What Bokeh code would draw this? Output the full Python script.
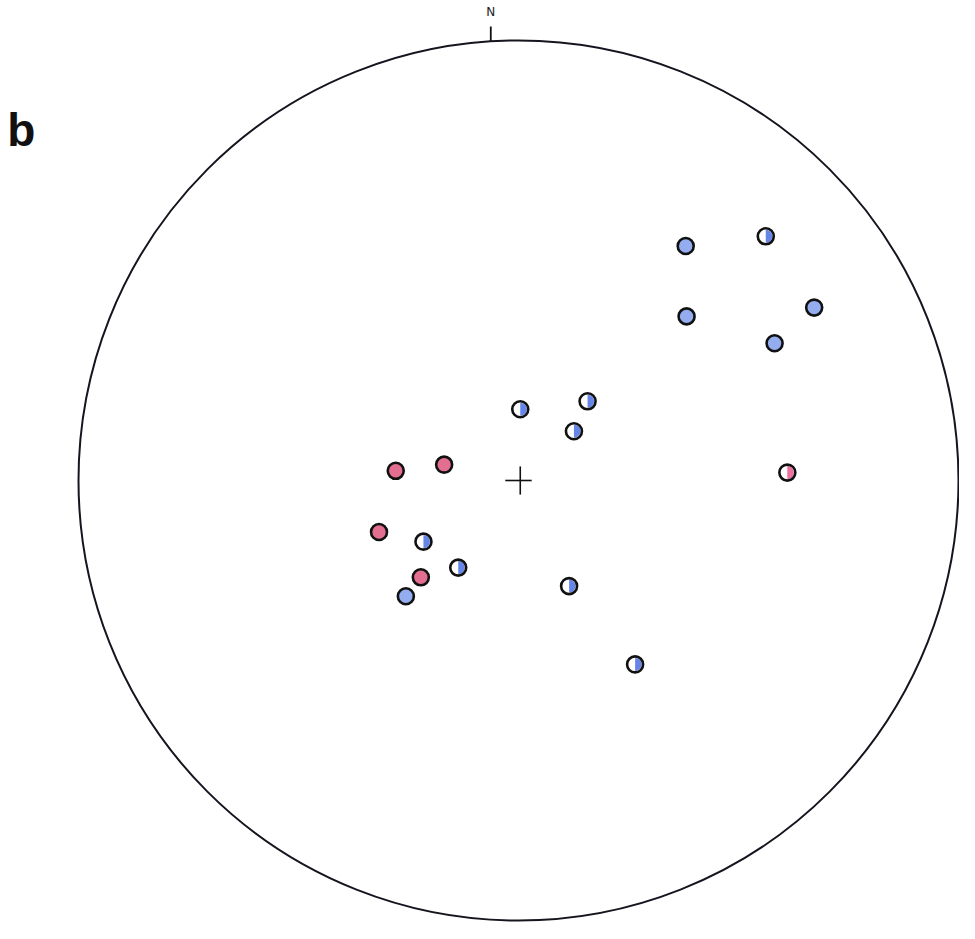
import math
from bokeh.plotting import figure
from bokeh.models import Range1d
from bokeh.core.properties import value
from bokeh.embed import file_html
from bokeh.resources import INLINE

# Points in stereonet unit-circle coordinates (east = +x, north = +y)
blue_full_x = [0.380, 0.382, 0.672, 0.582, -0.256]
blue_full_y = [0.533, 0.373, 0.393, 0.312, -0.263]

blue_half_x = [0.562, 0.004, 0.157, 0.126, -0.216, -0.137, 0.115, 0.265]
blue_half_y = [0.555, 0.162, 0.180, 0.112, -0.139, -0.198, -0.240, -0.418]

red_full_x = [-0.279, -0.169, -0.317, -0.222]
red_full_y = [0.022, 0.036, -0.117, -0.220]

red_half_x = [0.611]
red_half_y = [0.018]

north_label = "N"
panel_label = "b"
north_x = -0.063  # north tick position (slightly rotated scan)

W, H = 959, 923
S = 440.0
CX, CY = 518.0, 480.0
x0 = -CX / S
y1 = CY / S
p = figure(width=W, height=H, output_backend="svg", toolbar_location=None,
           x_range=Range1d(x0, x0 + W / S), y_range=Range1d(y1 - H / S, y1),
           min_border=0, outline_line_color=None)
p.axis.visible = False
p.grid.visible = False
p.background_fill_color = "white"

# Primitive circle
p.circle(x=[0], y=[0], radius=1, fill_color=None, line_color="#15151f", line_width=2)

# Center cross
p.segment(x0=[-0.03, 0.004], y0=[0.0, -0.032], x1=[0.03, 0.004], y1=[0.0, 0.032],
          line_color="#111111", line_width=1.6)

# North tick and label
ny = math.sqrt(1 - north_x ** 2)
p.segment(x0=[north_x], y0=[ny], x1=[north_x], y1=[ny + 0.034], line_color="#111111", line_width=1.8)
p.text(x=[north_x], y=[ny + 0.050], text=[north_label], text_align="center", text_baseline="bottom",
       text_font=value("DejaVu Sans"), text_font_size="12px", text_color="#222222")

# Panel label
p.text(x=[-1.162], y=[0.796], text=[panel_label], text_align="left", text_baseline="alphabetic",
       text_font=value("Liberation Sans"), text_font_style="bold", text_font_size="46px", text_color="#111111")

BLUE = "#93adf0"
BLUE_H = "#6586e8"
RED = "#e36f90"
RED_H = "#ef6fa0"
OUT = "#111111"
SZ = 16
LW = 2.6
R_SCREEN = 6.5

p.scatter(blue_full_x, blue_full_y, marker="circle", size=SZ, fill_color=BLUE, line_color=OUT, line_width=LW)
p.scatter(red_full_x, red_full_y, marker="circle", size=SZ, fill_color=RED, line_color=OUT, line_width=LW)

for hx, hy, col in [(blue_half_x, blue_half_y, BLUE_H), (red_half_x, red_half_y, RED_H)]:
    p.scatter(hx, hy, marker="circle", size=SZ, fill_color="white", line_color=None)
    p.wedge(x=hx, y=hy, radius=R_SCREEN, radius_units="screen", start_angle=-math.pi / 2,
            end_angle=math.pi / 2, fill_color=col, line_color=None)
    p.scatter(hx, hy, marker="circle", size=SZ, fill_color=None, line_color=OUT, line_width=LW)

open("out.html", "w").write(file_html(p, INLINE))
